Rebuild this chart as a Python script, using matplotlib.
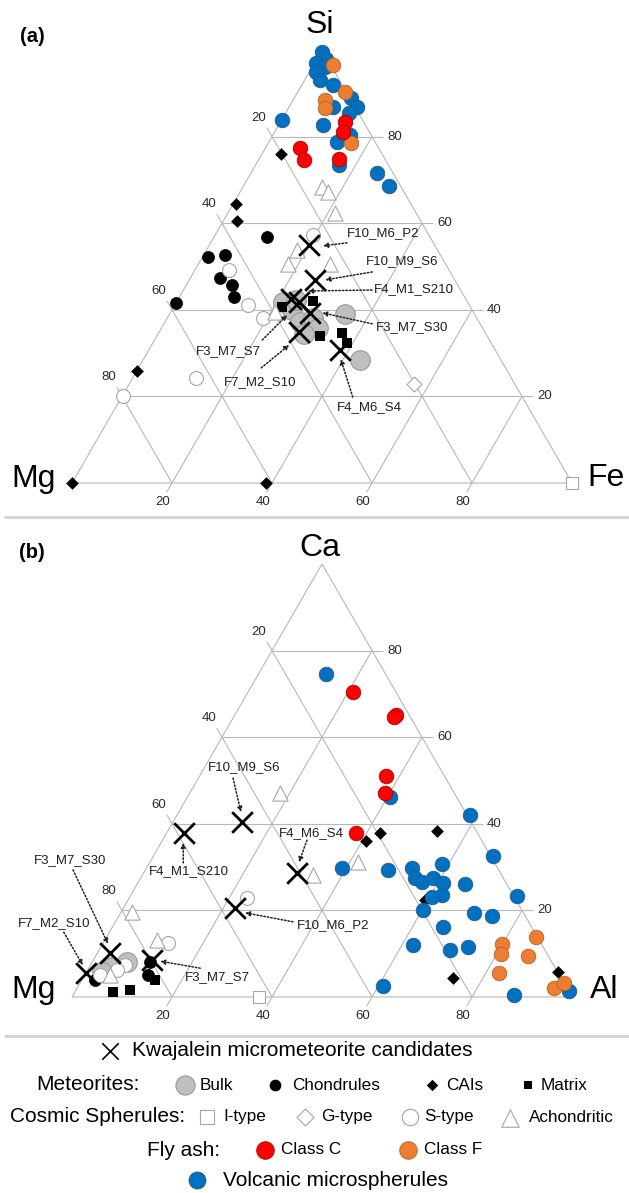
import numpy as np
import matplotlib
matplotlib.use("Agg")
import matplotlib.pyplot as plt

plt.rcParams['font.family'] = ['Liberation Sans', 'DejaVu Sans']

# ---------------- DATA (ternary percentages: (top, right); left = 100 - top - right) ----------------
# Panel (a): top = Si, left = Mg, right = Fe
a_volcanic = [(99.5, 0.2), (98, 1.8), (97, 0.2), (96, 2.5), (95, 1.2), (93, 3), (92, 6.2), (89, 11.2),
              (86.8, 8.8), (86.8, 13.6), (85.5, 12.7), (82.7, 8.9), (83.8, 0), (80.4, 15.4),
              (78.8, 13.6), (73.4, 16.7), (71.6, 25.2), (68.6, 29.1)]
a_class_f = [(96.5, 3.9), (90.3, 9.5), (88.5, 6.4), (86.6, 7.3), (78.5, 16.5)]
a_class_c = [(83.4, 12.9), (81.1, 13.7), (77.4, 6.9), (74.6, 9.1), (74.8, 16)]
a_cai = [(76, 3.8), (64.4, 0.6), (60.5, 2.8), (25.9, 0.1), (0, 0), (0, 38.8)]
a_chondrules = [(56.8, 10.6), (52.2, 1.1), (52.7, 4.3), (47.3, 5.9), (45.7, 9.1), (43, 10.9), (41.6, 0)]
a_stype = [(57.3, 19.6), (49.2, 6.8), (41.1, 14.6), (38.1, 19.2), (24.2, 12.7), (20.1, 0.2)]
a_gtype = [(22.9, 57)]
a_itype = [(0, 100)]
a_achondritic = [(68.4, 15.8), (67.2, 17.6), (62.4, 21.4), (53.8, 18.1), (50.6, 17.9), (50.6, 26.3), (39.5, 20.9)]
a_bulk = [(41.8, 21.3), (40, 24), (37.2, 27), (38.1, 29.2), (35.8, 31.3), (34.4, 29.2), (39, 35.1),
          (28.4, 43.4), (42.3, 23.7)]
a_matrix = [(40.6, 21.7), (42, 27.2), (33.9, 32.6), (34.6, 36.7), (32.3, 38.8)]

# Panel (b): top = Ca, left = Mg, right = Al
b_volcanic = [(74.6, 13.5), (46.2, 40.5), (42, 58.6), (32.6, 67.9), (23.3, 77.4), (29.8, 39.1),
              (29.3, 48.6), (29.8, 53.1), (30.7, 58.7), (27.5, 54.9), (26.6, 56.7), (27.5, 58.5),
              (26.3, 61.1), (23.6, 62.2), (23.1, 60.5), (26.1, 65.6), (20.1, 60.2), (19.4, 70.7),
              (18.7, 74.7), (16.2, 66.1), (12, 62.2), (10.9, 70.2), (11.5, 73.5), (2.5, 61),
              (0.5, 88.2), (1.4, 98.6)]
b_class_c = [(70.4, 21), (65.1, 32.3), (64.7, 32.1), (51, 37.3), (47.1, 39.1), (37.9, 37.9)]
b_class_f = [(13.9, 85.9), (12.2, 79.9), (9.9, 80.9), (9.5, 86.5), (5.5, 82.7), (2.1, 95.4), (3.2, 96.8)]
b_cai = [(22.4, 59.4), (37.9, 42.7), (36, 40.8), (38.3, 53.9), (4.4, 74), (5.8, 94.2)]
b_achondritic = [(31.2, 41.6), (28.2, 34.1), (47.1, 18.1), (19.6, 2.2), (13.2, 10.4), (5.1, 5.1)]
b_stype = [(22.9, 23.6), (12.5, 13), (7.4, 6.9), (6.2, 5.9), (5.1, 3.1)]
b_bulk = [(8.1, 7), (6.9, 4.6), (5.8, 3.1)]
b_chondrules = [(8.1, 11.6), (5.1, 12.7), (3.9, 2.7)]
b_matrix = [(3.9, 14.7), (1.2, 7.6), (1.6, 10.8)]
b_itype = [(0, 37.4)]

# Kwajalein micrometeorite candidates
kwaj_names = ['F10_M6_P2', 'F10_M9_S6', 'F4_M1_S210', 'F3_M7_S7', 'F3_M7_S30', 'F7_M2_S10', 'F4_M6_S4']
a_kwaj = [(55, 19.9), (46.9, 25.2), (41.8, 24.5), (42.5, 22.6), (39.3, 28), (34.9, 28), (30.7, 38.2)]
b_kwaj = [(20.6, 22.3), (40.4, 13.8), (37.9, 3.5), (8.5, 11.8), (10.2, 2.5), (5.5, 0), (28.6, 30.7)]

tick_values = [20, 40, 60, 80]

# ---------------- layout (annotation offsets in pixels: label, arrow start, arrow end; y up) -------------
a_annot = {
    'F10_M6_P2': ((74, 12), (38, 2), (14, -1)),
    'F10_M9_S6': ((87, 19), (57, 8), (10, 0)),
    'F4_M1_S210': ((115, 13), (73, 12), (9, 11)),
    'F3_M7_S7': ((-63, -52), (-29, -41), (-4, -16)),
    'F3_M7_S30': ((102, -14), (62, -11), (12, 0)),
    'F7_M2_S10': ((-39, -50), (-38, -36), (-10, -13)),
    'F4_M6_S4': ((30, -57), (13, -47), (1, -9)),
}
b_annot = {
    'F10_M6_P2': ((98, -17), (58, -14), (10, -5)),
    'F10_M9_S6': ((2, 55), (-9, 44), (-1, 10)),
    'F4_M1_S210': ((5, -38), (-1, -30), (-1, -10)),
    'F3_M7_S7': ((65, -17), (48, -8), (8, -1)),
    'F3_M7_S30': ((-40, 93), (-37, 83), (-2, 9)),
    'F7_M2_S10': ((-32, 50), (-22, 41), (-3, 8)),
    'F4_M6_S4': ((14, 40), (10, 33), (2, 11)),
}

W, H, DPI = 629, 1193, 100
PX = 5.0  # pixels per ternary unit
SQ = np.sqrt(3) / 2

BLUE, BLUE_E = '#0070C0', '#2a5a8a'
RED, RED_E = '#FF0000', '#b00000'
ORANGE, ORANGE_E = '#ED7D31', '#b8612a'
GRAY, GRAY_E = '#BFBFBF', '#9a9a9a'
WHITE_E = '#a6a6a6'
GRID = '#b8b8b8'

fig = plt.figure(figsize=(W / DPI, H / DPI), dpi=DPI)
fig.patch.set_facecolor('white')


def cart(pairs):
    arr = np.asarray(pairs, float).reshape(-1, 2)
    top, right = arr[:, 0], arr[:, 1]
    return right + top / 2.0, top * SQ


def tpt(top, right):
    return right + top / 2.0, top * SQ


def draw_frame(ax, labels, lab_pos):
    kw = dict(color=GRID, lw=0.8, zorder=1, solid_capstyle='butt')
    xs = [0, 100, 50, 0]
    ys = [0, 0, 100 * SQ, 0]
    ax.plot(xs, ys, **kw)
    for v in tick_values:
        p1, p2 = tpt(v, 0), tpt(v, 100 - v)
        ax.plot([p1[0], p2[0]], [p1[1], p2[1]], **kw)
        p1, p2 = tpt(0, v), tpt(100 - v, v)
        ax.plot([p1[0], p2[0]], [p1[1], p2[1]], **kw)
        p1, p2 = tpt(0, 100 - v), tpt(100 - v, 0)
        ax.plot([p1[0], p2[0]], [p1[1], p2[1]], **kw)
        tl = dict(fontsize=9.5, color='#2b2b2b', zorder=6)
        bx, by = tpt(0, v)
        ax.plot([bx, bx - 0.5 * 2.1], [by, by - SQ * 2.1], **kw)
        ax.text(bx - 1.8, by - 3.8, str(v), ha='center', va='center', **tl)
        lx, ly = tpt(100 - v, 0)
        ax.plot([lx, lx - 0.5 * 2.1], [ly, ly + SQ * 2.1], **kw)
        ax.text(lx - 2.6, ly + 3.8, str(v), ha='center', va='center', **tl)
        rx, ry = tpt(v, 100 - v)
        ax.plot([rx, rx + 2.2], [ry, ry], **kw)
        ax.text(rx + 3.0, ry, str(v), ha='left', va='center', **tl)
    vk = dict(fontsize=23, color='black', va='baseline', zorder=6)
    ax.text(lab_pos[0][0], lab_pos[0][1], labels[0], ha='center', **vk)
    ax.text(lab_pos[1][0], lab_pos[1][1], labels[1], ha='right', **vk)
    ax.text(lab_pos[2][0], lab_pos[2][1], labels[2], ha='left', **vk)


def sc(ax, pairs, **kw):
    x, y = cart(pairs)
    ax.scatter(x, y, clip_on=False, **kw)


def draw_points(ax, d):
    sc(ax, d['bulk'], s=200, c=GRAY, edgecolors=GRAY_E, linewidths=0.8, zorder=2)
    sc(ax, d['chondrules'], s=75, c='black', edgecolors='black', linewidths=0.5, marker='o', zorder=3)
    sc(ax, d['cai'], s=42, c='black', marker='D', linewidths=0, zorder=3)
    sc(ax, d['matrix'], s=45, c='black', marker='s', linewidths=0, zorder=3)
    sc(ax, d['stype'], s=100, c='white', edgecolors=WHITE_E, linewidths=0.8, zorder=4)
    sc(ax, d['achondritic'], s=120, c='white', marker='^', edgecolors=WHITE_E, linewidths=0.8, zorder=4)
    if d.get('gtype'):
        sc(ax, d['gtype'], s=58, c='white', marker='D', edgecolors=WHITE_E, linewidths=0.8, zorder=4)
    sc(ax, d['itype'], s=75, c='white', marker='s', edgecolors=WHITE_E, linewidths=0.8, zorder=4)
    sc(ax, d['volcanic'], s=110, c=BLUE, edgecolors=BLUE_E, linewidths=0.6, zorder=5)
    sc(ax, d['class_f'], s=110, c=ORANGE, edgecolors=ORANGE_E, linewidths=0.6, zorder=5.2)
    sc(ax, d['class_c'], s=110, c=RED, edgecolors=RED_E, linewidths=0.6, zorder=5.4)
    sc(ax, d['kwaj'], s=220, c='black', marker='x', linewidths=2.0, zorder=7)


def draw_annotations(ax, kwaj, annot):
    xs, ys = cart(kwaj)
    for name, x, y in zip(kwaj_names, xs, ys):
        (lx, ly), (sx, sy), (ex, ey) = annot[name]
        ax.text(x + lx / PX, y + ly / PX, name, ha='center', va='center', fontsize=9.5,
                color='#1e1e1e', zorder=8)
        ax.annotate('', xy=(x + ex / PX, y + ey / PX), xytext=(x + sx / PX, y + sy / PX),
                    arrowprops=dict(arrowstyle='-|>', lw=1.1, linestyle=(0, (1.0, 1.3)), color='#222222',
                                    mutation_scale=7, shrinkA=0, shrinkB=0), zorder=8)


ax_bg = fig.add_axes([0, 0, 1, 1])
ax_bg.set_xlim(0, W)
ax_bg.set_ylim(H, 0)
ax_bg.axis('off')
ax_bg.patch.set_visible(False)

# panel (a)
ax_a = fig.add_axes([0, (H - 520) / H, 1, 520 / H])
ax_a.set_xlim(-72 / PX, (W - 72) / PX)
ax_a.set_ylim((483 - 520) / PX, 483 / PX)
ax_a.axis('off')
ax_a.patch.set_visible(False)
draw_frame(ax_a, ['Si', 'Mg', 'Fe'], [(49.6, 90.0), (-3.2, -0.7), (103.0, -0.7)])
draw_points(ax_a, dict(bulk=a_bulk, chondrules=a_chondrules, cai=a_cai, matrix=a_matrix, stype=a_stype,
                       achondritic=a_achondritic, gtype=a_gtype, itype=a_itype, volcanic=a_volcanic,
                       class_f=a_class_f, class_c=a_class_c, kwaj=a_kwaj))
draw_annotations(ax_a, a_kwaj, a_annot)

# panel (b)
ax_b = fig.add_axes([0, (H - 1036) / H, 1, 516 / H])
ax_b.set_xlim(-72 / PX, (W - 72) / PX)
ax_b.set_ylim((997 - 1036) / PX, (997 - 520) / PX)
ax_b.axis('off')
ax_b.patch.set_visible(False)
draw_frame(ax_b, ['Ca', 'Mg', 'Al'], [(49.6, 88.2), (-3.2, -0.2), (103.6, -0.2)])
draw_points(ax_b, dict(bulk=b_bulk, chondrules=b_chondrules, cai=b_cai, matrix=b_matrix, stype=b_stype,
                       achondritic=b_achondritic, gtype=None, itype=b_itype, volcanic=b_volcanic,
                       class_f=b_class_f, class_c=b_class_c, kwaj=b_kwaj))
draw_annotations(ax_b, b_kwaj, b_annot)

# panel letters and separators
ax_bg.text(20, 37, '(a)', fontsize=14.5, fontweight='bold', va='center', ha='left')
ax_bg.text(19, 552, '(b)', fontsize=14.5, fontweight='bold', va='center', ha='left')
for yy in (517, 1036):
    ax_bg.plot([4, W], [yy, yy], color='#d2d2d2', lw=2.0, solid_capstyle='butt')

# legend (pixel coordinates)
L = ax_bg
tk = dict(fontsize=15, va='center', ha='left', color='black')
ik = dict(fontsize=12.3, va='center', ha='left', color='black')
L.scatter([110], [1051], marker='x', s=140, c='black', linewidths=1.2)
L.text(132, 1051, 'Kwajalein micrometeorite candidates', **tk)

y2 = 1085
L.text(36, y2, 'Meteorites:', **tk)
L.scatter([185], [y2], s=190, c=GRAY, edgecolors=GRAY_E, linewidths=0.8)
L.text(200, y2, 'Bulk', **ik)
L.scatter([275], [y2], s=55, c='black')
L.text(292, y2, 'Chondrules', **ik)
L.scatter([432], [y2], s=34, c='black', marker='D', linewidths=0)
L.text(446, y2, 'CAIs', **ik)
L.scatter([528], [y2], s=36, c='black', marker='s', linewidths=0)
L.text(541, y2, 'Matrix', **ik)

y3 = 1117
L.text(10, y3, 'Cosmic Spherules:', **tk)
L.scatter([207], [y3], s=95, c='white', marker='s', edgecolors=WHITE_E, linewidths=0.8)
L.text(223, y3, 'I-type', **ik)
L.scatter([305], [y3], s=75, c='white', marker='D', edgecolors=WHITE_E, linewidths=0.8)
L.text(321, y3, 'G-type', **ik)
L.scatter([410], [y3], s=140, c='white', edgecolors=WHITE_E, linewidths=0.8)
L.text(424, y3, 'S-type', **ik)
L.scatter([510], [y3 + 1], s=160, c='white', marker='^', edgecolors=WHITE_E, linewidths=0.8)
L.text(529, y3, 'Achondritic', **ik)

y4 = 1150
L.text(147, y4, 'Fly ash:', **tk)
L.scatter([265], [y4], s=160, c=RED, edgecolors=RED_E, linewidths=0.6)
L.text(281, y4, 'Class C', **ik)
L.scatter([408], [y4], s=160, c=ORANGE, edgecolors=ORANGE_E, linewidths=0.6)
L.text(424, y4, 'Class F', **ik)

y5 = 1180
L.scatter([197], [y5], s=150, c=BLUE, edgecolors=BLUE_E, linewidths=0.6)
L.text(223, y5, 'Volcanic microspherules', **tk)

fig.savefig('out.png', dpi=DPI, facecolor='white')
